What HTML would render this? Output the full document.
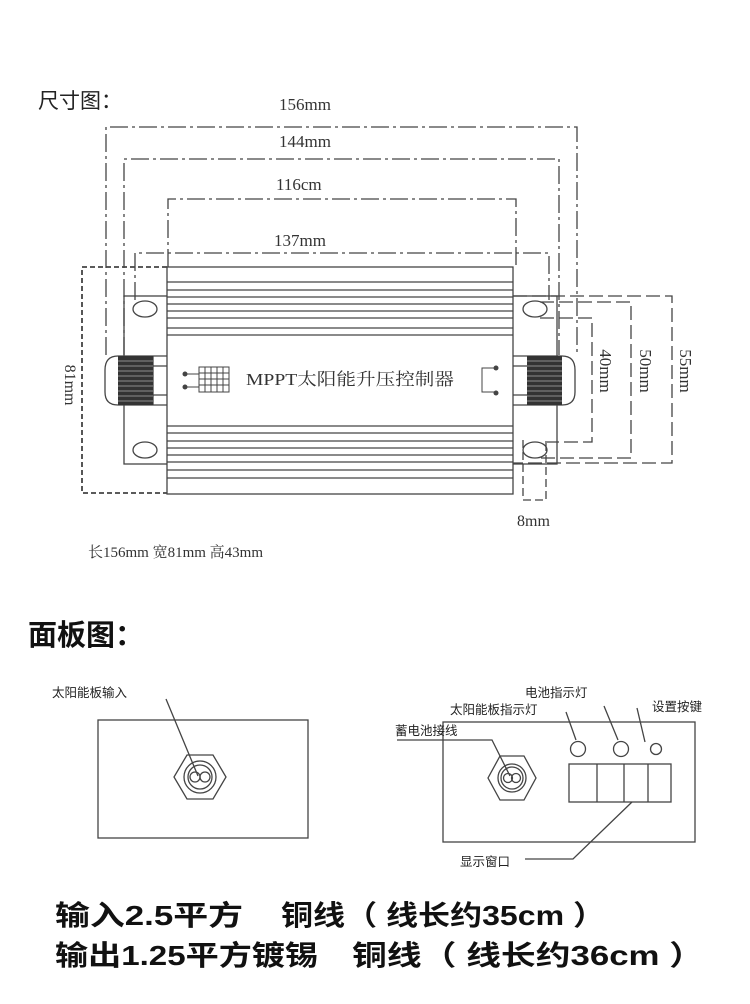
<!DOCTYPE html>
<html><head><meta charset="utf-8"><style>
html,body{margin:0;padding:0;background:#fff;}
svg{display:block;}
.s{font-family:"Liberation Serif","Noto Serif CJK SC",serif;fill:#333;}
.h{font-family:"Liberation Sans","Noto Sans CJK SC",sans-serif;}
</style></head><body>
<svg width="750" height="1004" viewBox="0 0 750 1004" xmlns="http://www.w3.org/2000/svg">
<rect width="750" height="1004" fill="#fff"/>
<text x="38" y="108" class="h" font-size="21" fill="#222">尺寸图：</text>
<g stroke="#444" stroke-width="1.3" fill="none">
<path d="M106 355 V127 H577 V355" stroke-dasharray="18 4 3 4"/>
<path d="M124 355 V159 H559 V355" stroke-dasharray="18 4 3 4"/>
<path d="M168 267 V199 H516 V267" stroke-dasharray="18 4 3 4"/>
<path d="M135 300 V253 H549 V300" stroke-dasharray="18 4 3 4"/>
<rect x="124" y="296" width="433" height="168"/>
<rect x="167" y="267" width="346" height="227" fill="#fff"/>
<path d="M167 282H513M167 290H513M167 297H513M167 304H513M167 311H513M167 318H513M167 328H513M167 335H513"/>
<path d="M167 426H513M167 433H513M167 441H513M167 448H513M167 455H513M167 462H513M167 470H513M167 478H513"/>
<ellipse cx="145" cy="309" rx="12" ry="8"/>
<ellipse cx="145" cy="450" rx="12" ry="8"/>
<ellipse cx="535" cy="309" rx="12" ry="8"/>
<ellipse cx="535" cy="450" rx="12" ry="8"/>
<path d="M167 267 H82 V493 H167" stroke-dasharray="5 3" stroke-width="1.8"/>
<path d="M513 296 H672 V463 H513" stroke-dasharray="14 5"/>
<path d="M540 302 H631 V458 H540" stroke-dasharray="14 5"/>
<path d="M540 318 H592 V442 H540" stroke-dasharray="14 5"/>
<path d="M523 440 V500 H546 V440" stroke-dasharray="8 4"/>
<path d="M167 356 H118 Q105 356 105 370 V392 Q105 405 118 405 H167"/>
<path d="M513 356 H562 Q575 356 575 370 V392 Q575 405 562 405 H513"/>
<path d="M153 356V405M513 366H527M513 395H527M153 366H167M153 395H167"/>
</g>
<rect x="118" y="356" width="35" height="49" fill="#333"/>
<rect x="527" y="356" width="35" height="49" fill="#333"/>
<g stroke="#aaa" stroke-width="0.8">
<path d="M118 361H153M118 366H153M118 371H153M118 376H153M118 381H153M118 386H153M118 391H153M118 396H153M118 401H153"/>
<path d="M527 361H562M527 366H562M527 371H562M527 376H562M527 381H562M527 386H562M527 391H562M527 396H562M527 401H562"/>
</g>
<g stroke="#444" stroke-width="1" fill="none">
<rect x="199" y="367" width="30" height="25"/>
<path d="M205 367V392M211 367V392M217 367V392M223 367V392M199 373H229M199 379H229M199 385H229"/>
<path d="M186 374H199M186 387H199"/>
<path d="M496 368H482V392H496"/>
</g>
<circle cx="185" cy="374" r="2.5" fill="#444"/><circle cx="185" cy="387" r="2.5" fill="#444"/>
<circle cx="496" cy="368" r="2.5" fill="#444"/><circle cx="496" cy="393" r="2.5" fill="#444"/>
<text x="246" y="385" class="s" font-size="17" textLength="208" lengthAdjust="spacingAndGlyphs">MPPT太阳能升压控制器</text>
<text x="279" y="110" class="s" font-size="17">156mm</text>
<text x="279" y="147" class="s" font-size="17">144mm</text>
<text x="276" y="190" class="s" font-size="17">116cm</text>
<text x="274" y="246" class="s" font-size="17">137mm</text>
<text x="0" y="0" class="s" font-size="16" transform="translate(65,385) rotate(90)" text-anchor="middle">81mm</text>
<text x="0" y="0" class="s" font-size="17" transform="translate(600,371) rotate(90)" text-anchor="middle">40mm</text>
<text x="0" y="0" class="s" font-size="17" transform="translate(640,371) rotate(90)" text-anchor="middle">50mm</text>
<text x="0" y="0" class="s" font-size="17" transform="translate(680,371) rotate(90)" text-anchor="middle">55mm</text>
<text x="517" y="526" class="s" font-size="16">8mm</text>
<text x="88" y="557" class="s" font-size="15">长156mm  宽81mm     高43mm</text>
<text x="28" y="645" class="h" font-size="29" font-weight="bold" fill="#111">面板图：</text>
<g stroke="#444" stroke-width="1.3" fill="none">
<rect x="98" y="720" width="210" height="118"/>
<rect x="443" y="722" width="252" height="120"/>
<polygon points="187,755 213,755 226,777 213,799 187,799 174,777"/>
<circle cx="200" cy="777" r="16"/><circle cx="200" cy="777" r="12"/>
<circle cx="195" cy="777" r="5"/><circle cx="205" cy="777" r="5"/>
<polygon points="500,756 524,756 536,778 524,800 500,800 488,778"/>
<circle cx="512" cy="778" r="14"/><circle cx="512" cy="778" r="11"/>
<circle cx="508" cy="778" r="4.5"/><circle cx="516" cy="778" r="4.5"/>
<circle cx="578" cy="749" r="7.5"/><circle cx="621" cy="749" r="7.5"/><circle cx="656" cy="749" r="5.5"/>
<rect x="569" y="764" width="102" height="38"/>
<path d="M597 764V802M624 764V802M648 764V802"/>
<path d="M166 699 L198 776"/>
<path d="M397 740 H492 L510 776"/>
<path d="M566 712 L576 740M604 706 L618 740M637 708 L645 742"/>
<path d="M525 859 H573 L632 802"/>
</g>
<g class="h" font-size="12.5" fill="#222">
<text x="52" y="697">太阳能板输入</text>
<text x="525" y="697">电池指示灯</text>
<text x="450" y="714">太阳能板指示灯</text>
<text x="652" y="711">设置按键</text>
<text x="395" y="735">蓄电池接线</text>
<text x="460" y="866">显示窗口</text>
</g>
<g class="h" font-weight="bold" font-size="28" fill="#111">
<text x="55" y="925" textLength="188" lengthAdjust="spacingAndGlyphs">输入2.5平方</text>
<text x="281" y="925" textLength="324" lengthAdjust="spacingAndGlyphs">铜线（ 线长约35cm ）</text>
<text x="55" y="965" textLength="263" lengthAdjust="spacingAndGlyphs">输出1.25平方镀锡</text>
<text x="352" y="965" textLength="352" lengthAdjust="spacingAndGlyphs">铜线（ 线长约36cm ）</text>
</g>
</svg>
</body></html>
